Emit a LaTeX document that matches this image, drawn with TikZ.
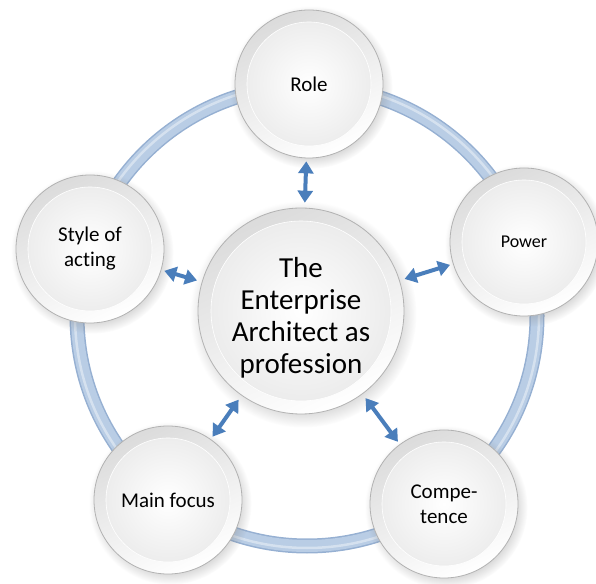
\documentclass[tikz,border=0pt]{standalone}
\usepackage{fontspec}
\setmainfont{Carlito}[Ligatures=NoCommon]
\usetikzlibrary{arrows.meta,shadows}
\definecolor{ringfill}{RGB}{185,205,229}
\definecolor{ringedge}{RGB}{150,176,210}
\definecolor{arrowblue}{RGB}{74,126,187}
\tikzset{
  bubble/.style={circle, draw=gray!60, line width=0.8pt, top color=gray!28, bottom color=white,
    shading angle=25, minimum size=148pt, inner sep=0pt, align=center,
    font=\fontsize{21}{25}\selectfont,
    circular drop shadow={shadow xshift=2pt, shadow yshift=-3pt, opacity=0.3},
    path picture={\shade[inner color=white, outer color=gray!17, draw=white, line width=0.6pt]
      (path picture bounding box.center) circle (62pt);}},
  hub/.style={bubble, minimum size=206pt, font=\fontsize{29}{32}\selectfont,
    path picture={\shade[inner color=white, outer color=gray!17, draw=white, line width=0.6pt]
      (path picture bounding box.center) circle (90pt);}},
  link/.style={{Triangle[width=15pt,length=12pt]}-{Triangle[width=15pt,length=12pt]},
    draw=arrowblue, line width=4pt, shorten <=5pt, shorten >=3pt}
}
\begin{document}
\begin{tikzpicture}[x=1pt, y=1pt]
  \useasboundingbox (0,0) rectangle (596,583);
  % ring behind the bubbles
  \coordinate (ring) at (307,267);
  \draw[ringedge, line width=15pt] (ring) circle (230);
  \draw[ringfill, line width=12pt] (ring) circle (230);
  \draw[white!40!ringfill, line width=2.5pt] (ring) circle (232);
  % bubbles
  \node[hub] (ea) at (301,272) {\rule{0pt}{33pt}The\\Enterprise\\Architect as\\profession};
  \node[bubble] (role) at (309,499) {Role};
  \node[bubble, font=\fontsize{18}{22}\selectfont] (power) at (524,341) {Power};
  \node[bubble] (compet) at (444,79) {Compe-\\tence};
  \node[bubble] (mainfocus) at (168,83) {Main focus};
  \node[bubble] (acting) at (90,334) {Style of\\acting};
  % links
  \draw[link] (ea) -- (role);
  \draw[link] (ea) -- (power);
  \draw[link] (ea) -- (compet);
  \draw[link] (ea) -- (mainfocus);
  \draw[link] (ea) -- (acting);
\end{tikzpicture}
\end{document}
